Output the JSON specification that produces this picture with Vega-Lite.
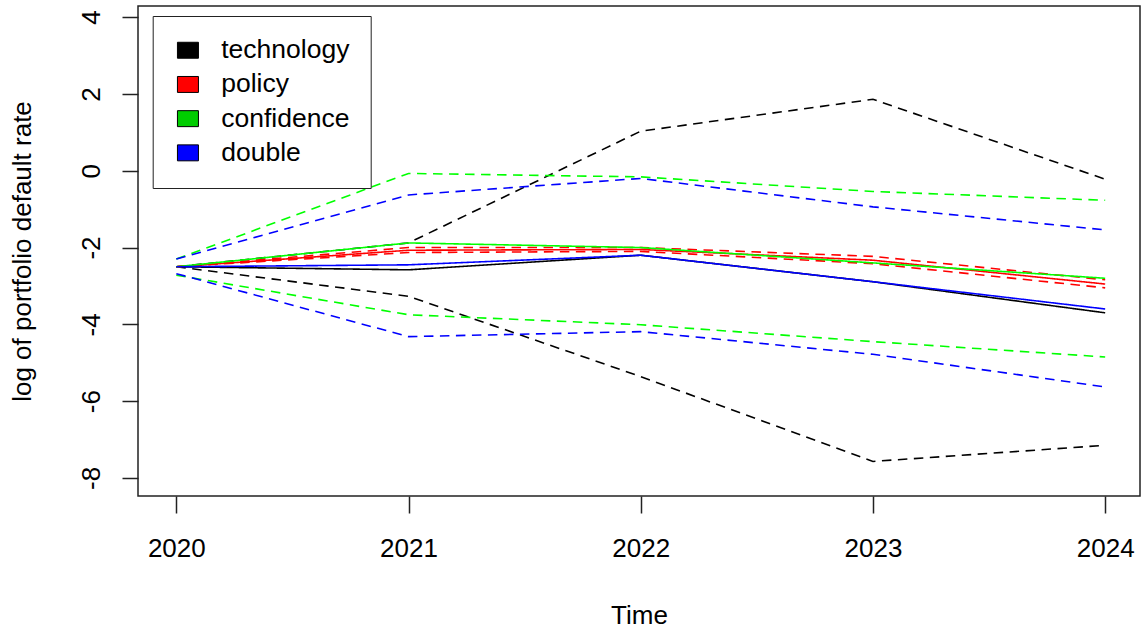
{
  "$schema": "https://vega.github.io/schema/vega-lite/v6.json",
  "width": 1002,
  "height": 490,
  "autosize": {"type": "none"},
  "padding": {"left": 138, "top": 6, "right": 2, "bottom": 137},
  "background": "white",
  "config": {
    "font": "Liberation Sans",
    "view": {"stroke": "#222", "strokeWidth": 1.5},
    "axis": {
      "grid": false,
      "domain": false,
      "tickColor": "#222",
      "tickWidth": 1.5,
      "labelColor": "#000",
      "titleColor": "#000",
      "labelFontSize": 26,
      "titleFontSize": 26,
      "titleFontWeight": "normal",
      "labelFont": "Liberation Sans",
      "titleFont": "Liberation Sans",
      "labelFlush": false,
      "labelOverlap": false,
      "labelBound": false
    }
  },
  "data": {
    "values": [
      {"series": "technology", "band": "mean", "year": 2020, "value": -2.5},
      {"series": "technology", "band": "mean", "year": 2021, "value": -2.58},
      {"series": "technology", "band": "mean", "year": 2022, "value": -2.2},
      {"series": "technology", "band": "mean", "year": 2023, "value": -2.89},
      {"series": "technology", "band": "mean", "year": 2024, "value": -3.7},
      {"series": "technology", "band": "upper", "year": 2020, "value": -2.5},
      {"series": "technology", "band": "upper", "year": 2021, "value": -1.88},
      {"series": "technology", "band": "upper", "year": 2022, "value": 1.03},
      {"series": "technology", "band": "upper", "year": 2023, "value": 1.86},
      {"series": "technology", "band": "upper", "year": 2024, "value": -0.22},
      {"series": "technology", "band": "lower", "year": 2020, "value": -2.5},
      {"series": "technology", "band": "lower", "year": 2021, "value": -3.27},
      {"series": "technology", "band": "lower", "year": 2022, "value": -5.36},
      {"series": "technology", "band": "lower", "year": 2023, "value": -7.57},
      {"series": "technology", "band": "lower", "year": 2024, "value": -7.15},
      {"series": "policy", "band": "mean", "year": 2020, "value": -2.5},
      {"series": "policy", "band": "mean", "year": 2021, "value": -2.07},
      {"series": "policy", "band": "mean", "year": 2022, "value": -2.05},
      {"series": "policy", "band": "mean", "year": 2023, "value": -2.33},
      {"series": "policy", "band": "mean", "year": 2024, "value": -2.95},
      {"series": "policy", "band": "upper", "year": 2020, "value": -2.5},
      {"series": "policy", "band": "upper", "year": 2021, "value": -2.0},
      {"series": "policy", "band": "upper", "year": 2022, "value": -2.0},
      {"series": "policy", "band": "upper", "year": 2023, "value": -2.23},
      {"series": "policy", "band": "upper", "year": 2024, "value": -2.84},
      {"series": "policy", "band": "lower", "year": 2020, "value": -2.5},
      {"series": "policy", "band": "lower", "year": 2021, "value": -2.13},
      {"series": "policy", "band": "lower", "year": 2022, "value": -2.1},
      {"series": "policy", "band": "lower", "year": 2023, "value": -2.42},
      {"series": "policy", "band": "lower", "year": 2024, "value": -3.05},
      {"series": "confidence", "band": "mean", "year": 2020, "value": -2.5},
      {"series": "confidence", "band": "mean", "year": 2021, "value": -1.88},
      {"series": "confidence", "band": "mean", "year": 2022, "value": -2.0},
      {"series": "confidence", "band": "mean", "year": 2023, "value": -2.4},
      {"series": "confidence", "band": "mean", "year": 2024, "value": -2.8},
      {"series": "confidence", "band": "upper", "year": 2020, "value": -2.3},
      {"series": "confidence", "band": "upper", "year": 2021, "value": -0.07},
      {"series": "confidence", "band": "upper", "year": 2022, "value": -0.16},
      {"series": "confidence", "band": "upper", "year": 2023, "value": -0.54},
      {"series": "confidence", "band": "upper", "year": 2024, "value": -0.77},
      {"series": "confidence", "band": "lower", "year": 2020, "value": -2.72},
      {"series": "confidence", "band": "lower", "year": 2021, "value": -3.75},
      {"series": "confidence", "band": "lower", "year": 2022, "value": -4.01},
      {"series": "confidence", "band": "lower", "year": 2023, "value": -4.45},
      {"series": "confidence", "band": "lower", "year": 2024, "value": -4.85},
      {"series": "double", "band": "mean", "year": 2020, "value": -2.5},
      {"series": "double", "band": "mean", "year": 2021, "value": -2.45},
      {"series": "double", "band": "mean", "year": 2022, "value": -2.2},
      {"series": "double", "band": "mean", "year": 2023, "value": -2.89},
      {"series": "double", "band": "mean", "year": 2024, "value": -3.6},
      {"series": "double", "band": "upper", "year": 2020, "value": -2.3},
      {"series": "double", "band": "upper", "year": 2021, "value": -0.63},
      {"series": "double", "band": "upper", "year": 2022, "value": -0.2},
      {"series": "double", "band": "upper", "year": 2023, "value": -0.94},
      {"series": "double", "band": "upper", "year": 2024, "value": -1.54},
      {"series": "double", "band": "lower", "year": 2020, "value": -2.68},
      {"series": "double", "band": "lower", "year": 2021, "value": -4.32},
      {"series": "double", "band": "lower", "year": 2022, "value": -4.19},
      {"series": "double", "band": "lower", "year": 2023, "value": -4.78},
      {"series": "double", "band": "lower", "year": 2024, "value": -5.63}
    ]
  },
  "layer": [
    {
      "mark": {"type": "line", "strokeWidth": 1.6, "strokeCap": "butt", "clip": true},
      "encoding": {
        "x": {
          "field": "year",
          "type": "quantitative",
          "scale": {"domain": [2019.835, 2024.15], "nice": false, "zero": false},
          "axis": {
            "values": [2020, 2021, 2022, 2023, 2024],
            "format": "d",
            "tickSize": 17,
            "labelPadding": 22.5,
            "title": "Time",
            "titlePadding": 41
          }
        },
        "y": {
          "field": "value",
          "type": "quantitative",
          "scale": {"domain": [-8.47, 4.29], "nice": false, "zero": false},
          "axis": {
            "values": [-8, -6, -4, -2, 0, 2, 4],
            "labelExpr": "'' + datum.value",
            "labelAngle": 270,
            "labelAlign": "center",
            "labelBaseline": "alphabetic",
            "tickSize": 16,
            "labelPadding": 23,
            "title": "log of portfolio default rate",
            "titlePadding": 43
          }
        },
        "stroke": {
          "field": "series",
          "type": "nominal",
          "scale": {"domain": ["double", "confidence", "policy", "technology"], "range": ["#0000FF", "#00FF00", "#FF0000", "#000000"]},
          "legend": null
        },
        "strokeDash": {
          "field": "band",
          "type": "nominal",
          "scale": {"domain": ["mean", "upper", "lower"], "range": [[1, 0], [9.5, 6.5], [9.5, 6.5]]},
          "legend": null
        }
      }
    },
    {
      "transform": [{"filter": "datum.year > 3000"}],
      "mark": {"type": "point", "filled": true, "stroke": "#000", "strokeWidth": 1},
      "encoding": {
        "x": {"field": "year", "type": "quantitative"},
        "y": {"field": "value", "type": "quantitative"},
        "fill": {
          "field": "series",
          "type": "nominal",
          "scale": {"domain": ["technology", "policy", "confidence", "double"], "range": ["#000000", "#FF0000", "#00CD00", "#0000FF"]},
          "legend": {
            "orient": "none",
            "legendX": 14.7,
            "legendY": 10,
            "title": null,
            "padding": 21,
            "strokeColor": "#222",
            "fillColor": "white",
            "symbolType": "M-1,-0.76H1V0.76H-1Z",
            "symbolSize": 441,
            "symbolStrokeColor": "#000",
            "symbolStrokeWidth": 1,
            "symbolOpacity": 1,
            "symbolOffset": 1,
            "labelOffset": 20,
            "labelFontSize": 26.5,
            "labelFont": "Liberation Sans",
            "labelColor": "#000",
            "rowPadding": 7.2
          }
        }
      }
    }
  ]
}
